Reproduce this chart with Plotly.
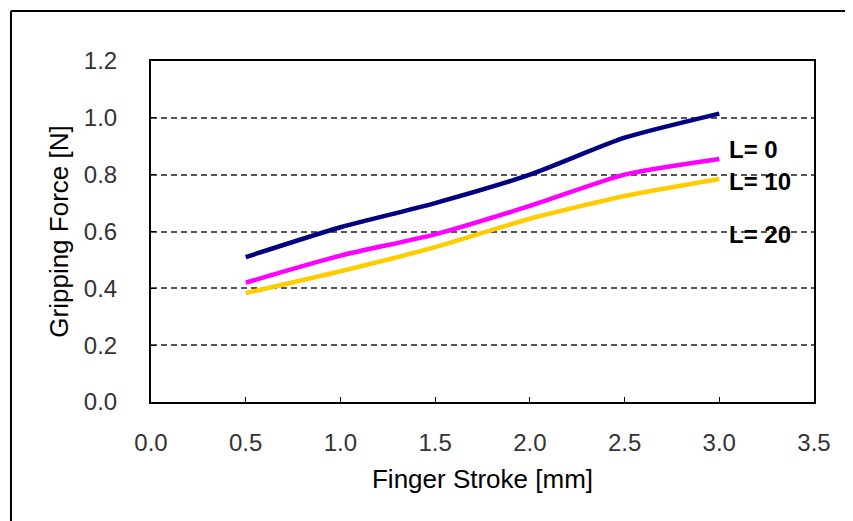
import plotly.graph_objects as go

stroke = [0.5, 1.0, 1.5, 2.0, 2.5, 3.0]
force_L0 = [0.51, 0.615, 0.70, 0.80, 0.93, 1.015]
force_L10 = [0.42, 0.515, 0.59, 0.69, 0.80, 0.855]
force_L20 = [0.383, 0.46, 0.545, 0.645, 0.725, 0.785]
series_names = ["L= 0", "L= 10", "L= 20"]
label_y = [0.89, 0.775, 0.588]
label_x = 3.04

colors = ["#000080", "#FF00FF", "#FFCC00"]

fig = go.Figure()
for name, ys, c in zip(series_names, [force_L0, force_L10, force_L20], colors):
    fig.add_trace(go.Scatter(x=stroke, y=ys, mode="lines", name=name,
                             line=dict(color=c, width=4.5, shape="spline", smoothing=0.6)))

for name, ly in zip(series_names, label_y):
    fig.add_annotation(x=label_x, y=ly, text="<b>" + name + "</b>", showarrow=False,
                       xanchor="left", yanchor="middle",
                       font=dict(family="Liberation Sans, Arial", size=24, color="#000000"))

# outer border (left and top edges visible)
fig.add_shape(type="line", xref="paper", yref="paper", x0=-0.2112, y0=-0.4, x1=-0.2112, y1=1.1466,
              line=dict(color="black", width=2))
fig.add_shape(type="line", xref="paper", yref="paper", x0=-0.2112, y0=1.1466, x1=1.08, y1=1.1466,
              line=dict(color="black", width=2))

axis_font = dict(family="Liberation Sans, Arial", size=24, color="#333333")
title_font = dict(family="Liberation Sans, Arial", size=26, color="#000000")
fig.update_layout(
    width=845, height=513,
    margin=dict(l=143, r=39, t=53, b=119),
    paper_bgcolor="white", plot_bgcolor="white",
    showlegend=False,
    xaxis=dict(range=[0, 3.5], dtick=0.5, tickformat=".1f", showgrid=False, zeroline=False,
               showline=True, mirror=True, linecolor="black", linewidth=2,
               ticks="inside", ticklen=5, tickcolor="black", tickfont=axis_font,
               ticklabelstandoff=18,
               title=dict(text="Finger Stroke [mm]", font=title_font, standoff=15)),
    yaxis=dict(range=[0, 1.2], dtick=0.2, tickformat=".1f", showgrid=True,
               gridcolor="#555555", gridwidth=2, griddash="6px,4px", zeroline=False,
               showline=True, mirror=True, linecolor="black", linewidth=2,
               ticks="inside", ticklen=5, tickcolor="black", tickfont=axis_font,
               ticklabelstandoff=27,
               title=dict(text="Gripping Force [N]", font=title_font, standoff=8)),
)

fig.write_html("out.html")
